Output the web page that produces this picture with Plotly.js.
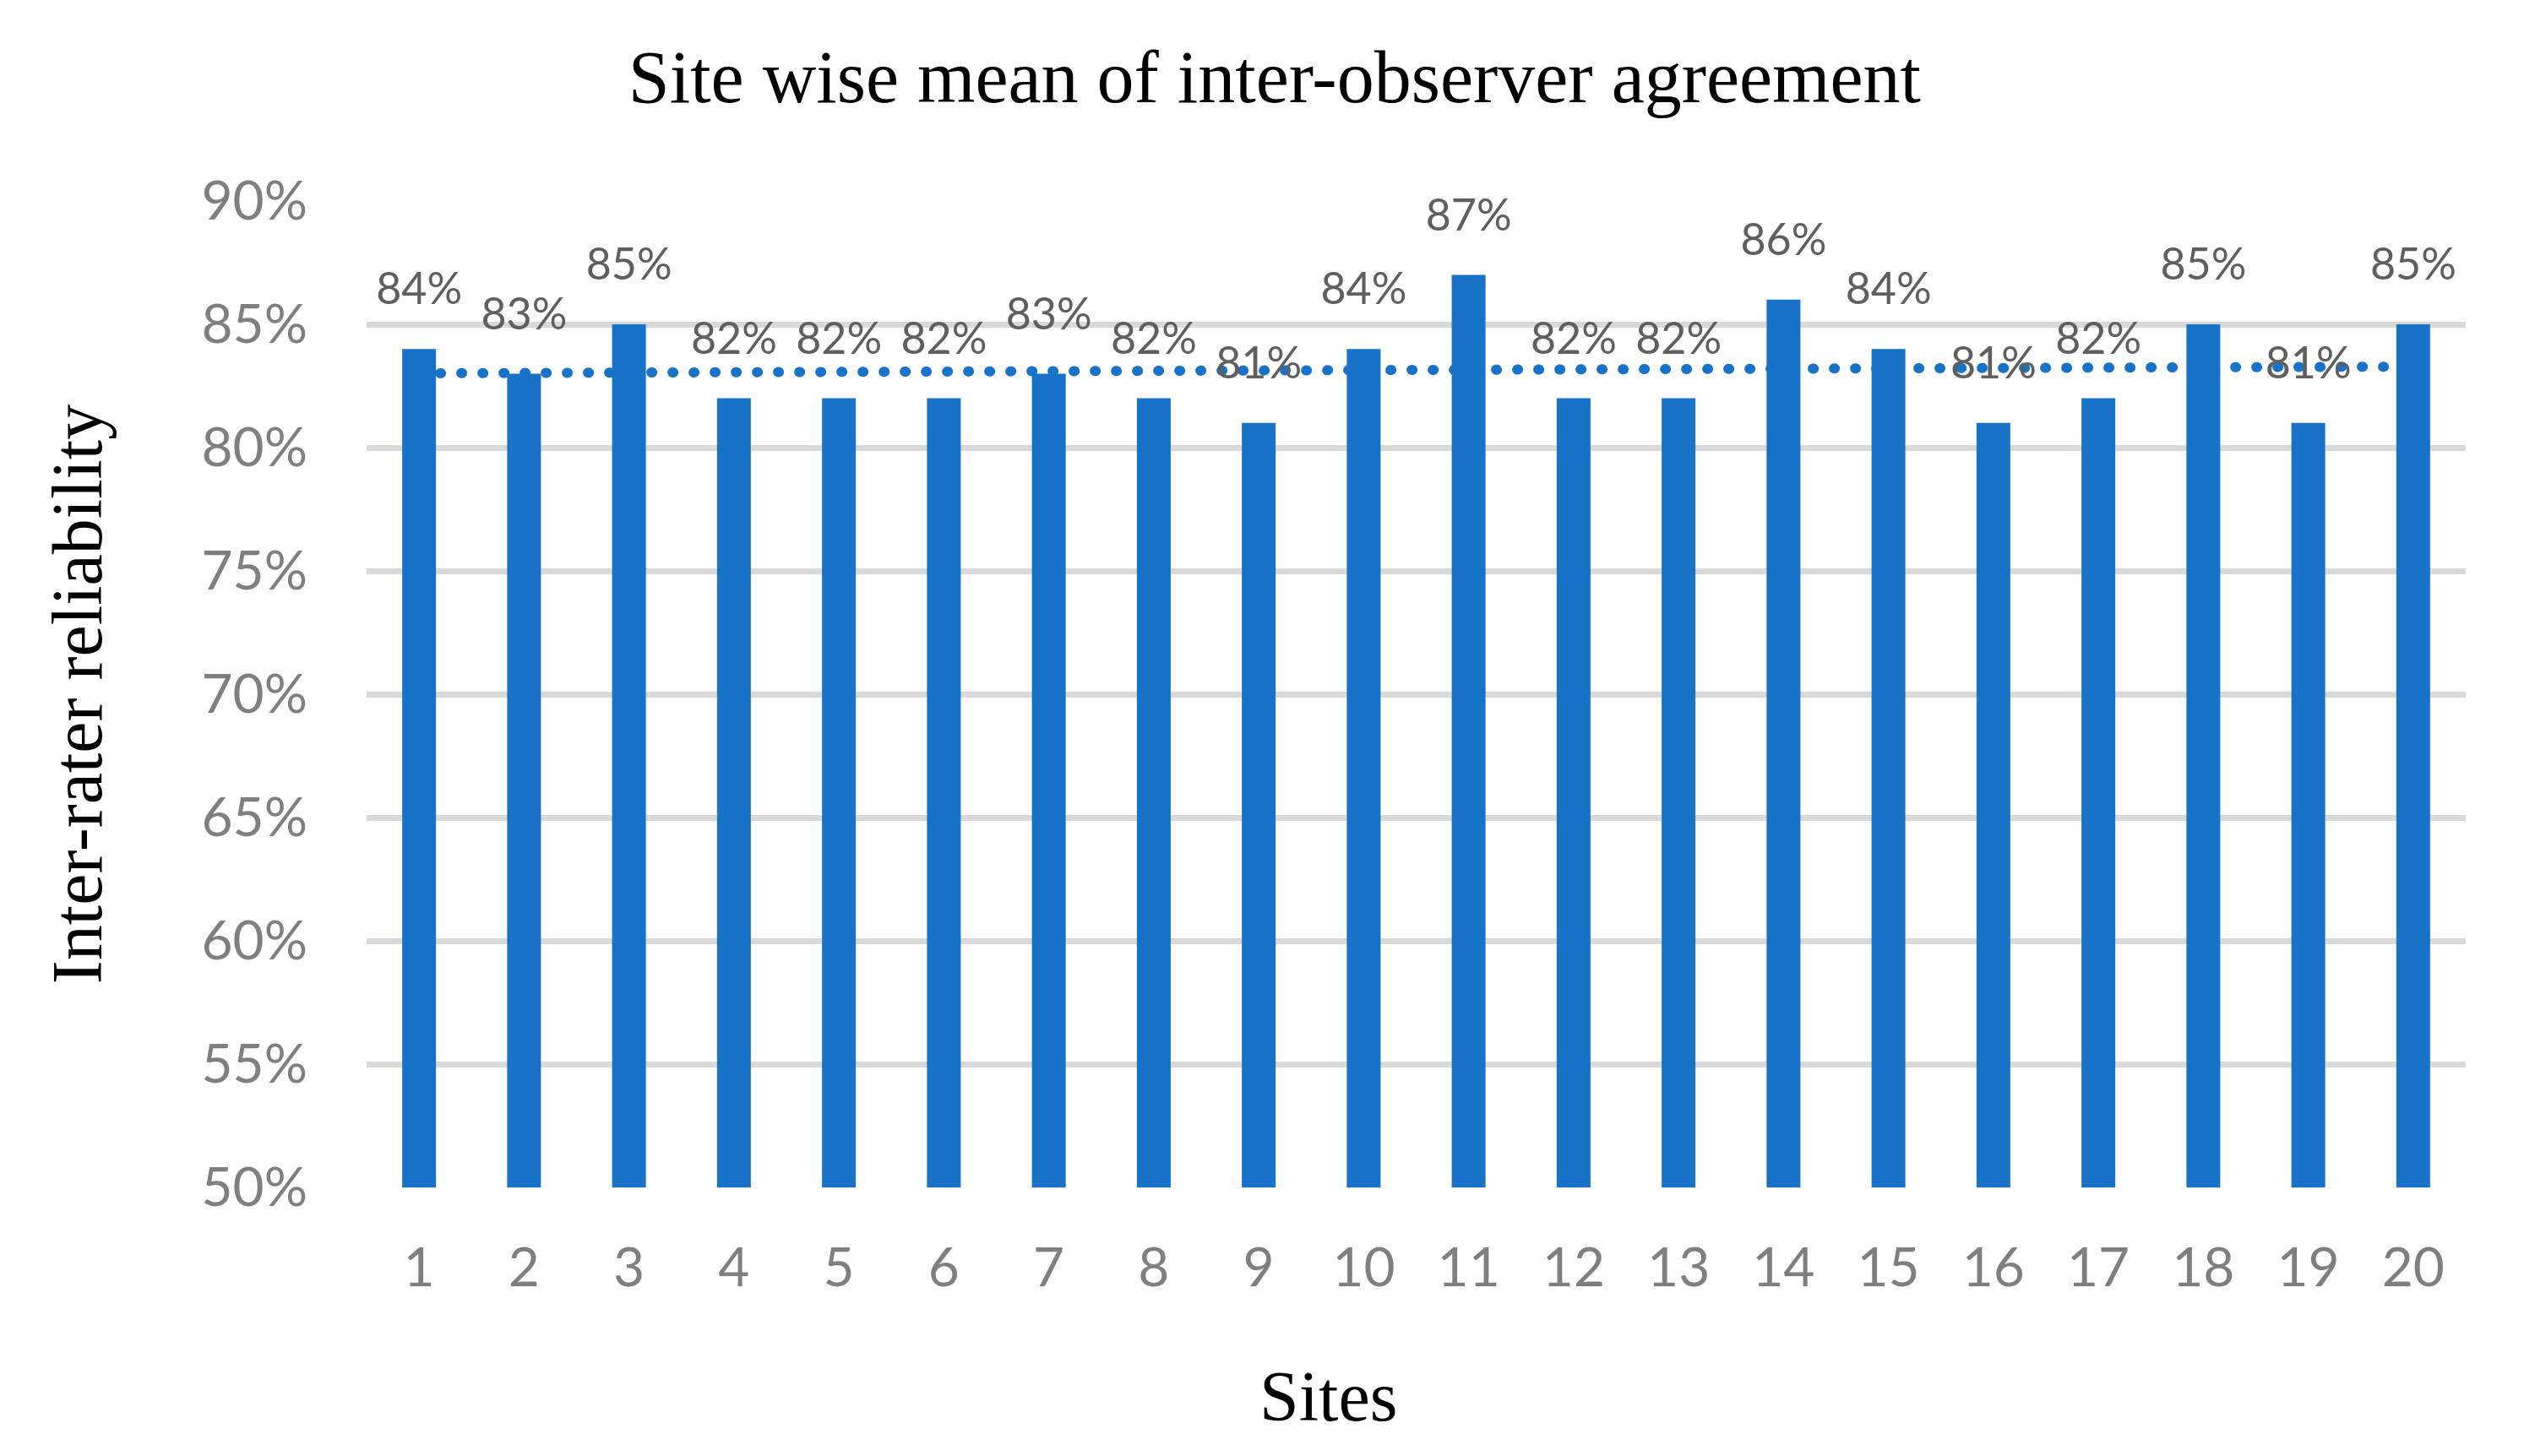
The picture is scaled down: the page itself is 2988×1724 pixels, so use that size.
<!DOCTYPE html>
<html>
<head>
<meta charset="utf-8">
<script src="https://cdn.plot.ly/plotly-3.0.1.min.js"></script>
<style>
  html, body { margin: 0; padding: 0; background: #ffffff; }
  #chart { width: 2988px; height: 1724px; }
  .scatterlayer .js-line { stroke-linecap: round !important; }
</style>
</head>
<body>
<div id="chart"></div>
<script>
// ---- Data ----
const sites = ['1','2','3','4','5','6','7','8','9','10','11','12','13','14','15','16','17','18','19','20'];
const agreement = [0.84,0.83,0.85,0.82,0.82,0.82,0.83,0.82,0.81,0.84,0.87,0.82,0.82,0.86,0.84,0.81,0.82,0.85,0.81,0.85];
const chartTitle = 'Site wise mean of inter-observer agreement';
const xTitle = 'Sites';
const yTitle = 'Inter-rater reliability';

// Linear trendline (least squares on site index), as in the original spreadsheet chart
const idx = agreement.map((_, i) => i + 1);
const n = agreement.length;
const mx = idx.reduce((a, b) => a + b, 0) / n;
const my = agreement.reduce((a, b) => a + b, 0) / n;
let sxy = 0, sxx = 0;
for (let i = 0; i < n; i++) { sxy += (idx[i] - mx) * (agreement[i] - my); sxx += (idx[i] - mx) ** 2; }
const slope = sxy / sxx;
const intercept = my - slope * mx;
const trend = idx.map(x => intercept + slope * x);

const barColor = '#1873C8';
const tickFont = { family: 'Lato, "Open Sans", sans-serif', size: 64, color: '#7F7F7F' };
const labelFont = { family: 'Lato, "Open Sans", sans-serif', size: 52, color: '#5F5F5F' };
const serif = 'Liberation Serif, "Times New Roman", serif';

const traces = [
  {
    type: 'scatter', mode: 'lines', x: sites, y: trend,
    xaxis: 'x', yaxis: 'y',
    line: { color: barColor, width: 12, dash: '1px,24px' },
    hoverinfo: 'skip', showlegend: false
  },
  {
    type: 'bar', x: sites, y: agreement,
    xaxis: 'x', yaxis: 'y2',
    marker: { color: barColor },
    showlegend: false
  },
  {
    type: 'scatter', mode: 'markers+text', x: sites, y: agreement,
    xaxis: 'x', yaxis: 'y2',
    text: agreement.map(v => Math.round(v * 100) + '%'),
    textposition: 'top center',
    textfont: labelFont,
    cliponaxis: false,
    marker: { size: 62, opacity: 0 },
    hoverinfo: 'skip', showlegend: false
  }
];

const layout = {
  width: 2988, height: 1724,
  margin: { l: 434, r: 69, t: 238, b: 318 },
  paper_bgcolor: '#ffffff', plot_bgcolor: '#ffffff',
  bargap: 0.678,
  showlegend: false,
  title: {
    text: chartTitle,
    font: { family: serif, size: 88, color: '#000000' },
    x: 0.505, xanchor: 'center',
    y: 1 - 90 / 1724, yanchor: 'middle'
  },
  xaxis: {
    type: 'category',
    range: [-0.5, 19.5],
    showgrid: false, zeroline: false, showline: false,
    ticks: '', tickfont: tickFont,
    ticklabelstandoff: 52
  },
  yaxis: {
    range: [0.5, 0.9], dtick: 0.05, tick0: 0.5,
    tickformat: '.0%',
    showgrid: true, gridcolor: '#D9D9D9', gridwidth: 7,
    zeroline: false, showline: false,
    ticks: '', tickfont: tickFont,
    ticklabelstandoff: 69,
    title: { text: yTitle, font: { family: serif, size: 84, color: '#000000' }, standoff: 90 }
  },
  yaxis2: {
    overlaying: 'y',
    range: [0.5, 0.9],
    showgrid: false, zeroline: false, showline: false,
    showticklabels: false, ticks: ''
  },
  annotations: [
    {
      text: xTitle, xref: 'paper', yref: 'paper',
      x: 0.458, y: -0.2123, xanchor: 'center', yanchor: 'middle',
      showarrow: false,
      font: { family: serif, size: 84, color: '#000000' }
    }
  ]
};

Plotly.newPlot('chart', traces, layout, { displayModeBar: false, staticPlot: true });
</script>
</body>
</html>
